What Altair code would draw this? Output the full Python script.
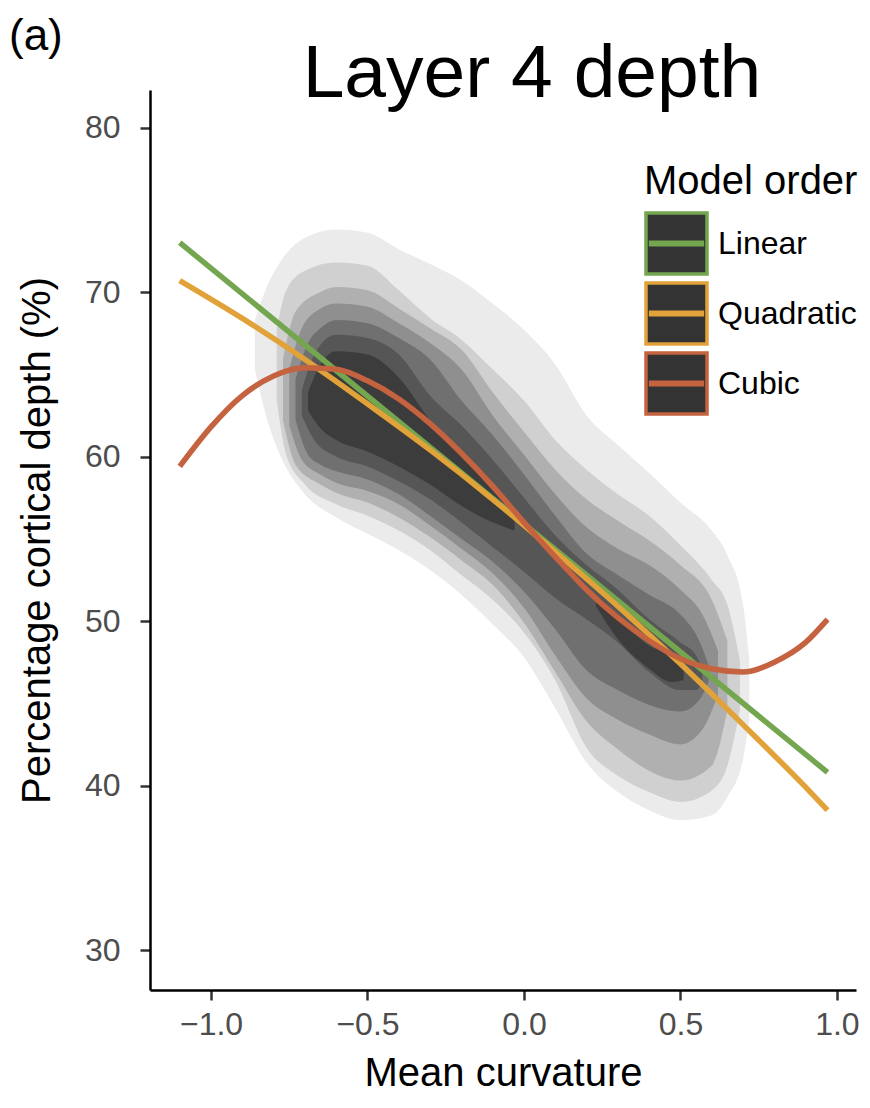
import altair as alt
import pandas as pd

FONT = "Liberation Sans"

# ---------------- fitted model curves ----------------
models = ["Linear", "Quadratic", "Cubic"]
model_colors = ["#74a64f", "#e2a23a", "#c5623f"]

lin_x = [-1.1, 0.0, 0.97]
lin_y = [73.0, 55.9, 40.8]

quad_x = [-1.1, -0.9, -0.7, -0.5, -0.3, -0.1, 0.1, 0.3, 0.5, 0.7, 0.9, 0.97]
quad_y = [70.7, 68.4, 65.9, 63.2, 60.4, 57.4, 54.2, 50.9, 47.4, 43.7, 39.9, 38.5]

cub_x = [-1.1, -1.0, -0.9, -0.8, -0.7, -0.6, -0.5, -0.4, -0.3, -0.2, -0.1, 0.0,
         0.1, 0.2, 0.3, 0.4, 0.5, 0.6, 0.7, 0.8, 0.9, 0.97]
cub_y = [59.4, 61.8, 63.7, 64.9, 65.4, 65.3, 64.6, 63.5, 62.0, 60.2, 58.2, 56.0,
         53.9, 51.9, 50.2, 48.8, 47.7, 47.1, 46.9, 47.5, 48.7, 50.1]

# ---------------- density contour bands (outer -> inner) ----------------
level_colors = ["#ebebeb", "#d0d0d0", "#b0b0b0", "#8f8f8f", "#707070", "#565656", "#3c3c3c"]

d1_x = [-0.86, -0.82, -0.78, -0.7, -0.6, -0.5, -0.4, -0.3, -0.2, -0.1, 0.0, 0.1, 0.2, 0.3, 0.4, 0.5, 0.6, 0.65, 0.7, 0.72]
d1_hi = [68.3, 70.4, 71.8, 73.3, 73.8, 73.6, 72.6, 71.7, 70.7, 69.3, 67.7, 65.6, 62.5, 60.7, 59.0, 57.2, 55.5, 54.0, 51.0, 47.6]
d1_lo = [65.3, 62.2, 60.1, 57.7, 56.3, 55.3, 54.3, 53.1, 51.6, 49.8, 47.8, 44.7, 41.4, 39.6, 38.5, 37.9, 38.2, 39.3, 41.6, 44.0]

d2_x = [-0.79, -0.76, -0.7, -0.6, -0.5, -0.4, -0.3, -0.2, -0.1, 0.0, 0.1, 0.2, 0.3, 0.4, 0.5, 0.6, 0.65, 0.69]
d2_hi = [67.7, 70.1, 71.3, 71.8, 71.6, 70.1, 68.4, 67.1, 65.3, 63.4, 61.0, 59.2, 57.7, 56.4, 54.6, 52.5, 51.0, 47.6]
d2_lo = [63.4, 60.1, 58.3, 57.1, 56.4, 55.5, 54.3, 52.8, 51.3, 49.3, 46.4, 42.3, 40.6, 39.6, 39.0, 39.7, 41.2, 44.6]

d3_x = [-0.77, -0.73, -0.65, -0.6, -0.5, -0.4, -0.3, -0.2, -0.1, 0.0, 0.1, 0.2, 0.3, 0.4, 0.5, 0.6, 0.65]
d3_hi = [65.9, 68.8, 70.0, 70.3, 70.1, 69.0, 67.8, 66.5, 63.9, 61.5, 59.2, 57.4, 56.1, 54.9, 53.4, 51.3, 48.8]
d3_lo = [62.2, 59.5, 58.3, 57.8, 57.2, 56.3, 55.1, 53.7, 52.2, 49.9, 46.9, 43.9, 42.2, 40.9, 40.3, 41.2, 44.6]

d4_x = [-0.75, -0.71, -0.65, -0.6, -0.5, -0.4, -0.3, -0.2, -0.1, 0.0, 0.1, 0.2, 0.3, 0.4, 0.5, 0.57, 0.62]
d4_hi = [65.3, 67.8, 69.0, 69.3, 69.1, 68.1, 66.9, 65.3, 62.5, 60.1, 57.7, 55.7, 54.4, 53.4, 51.9, 50.4, 48.2]
d4_lo = [61.9, 59.8, 58.9, 58.4, 57.9, 57.1, 55.8, 54.4, 52.9, 50.8, 47.9, 45.3, 44.0, 43.1, 42.5, 43.4, 45.5]

d5_x = [-0.73, -0.69, -0.65, -0.6, -0.5, -0.4, -0.3, -0.2, -0.1, 0.0, 0.1, 0.2, 0.3, 0.4, 0.5, 0.56, 0.59]
d5_hi = [64.7, 66.9, 67.8, 68.3, 68.1, 67.2, 65.9, 63.4, 61.3, 58.9, 56.4, 54.1, 52.8, 51.6, 50.4, 48.8, 47.3]
d5_lo = [62.2, 60.1, 59.5, 59.1, 58.6, 57.7, 56.4, 55.0, 53.6, 51.8, 49.5, 47.0, 45.8, 44.9, 44.5, 45.2, 46.3]

d6_x = [-0.71, -0.67, -0.6, -0.5, -0.4, -0.3, -0.2, -0.1, 0.0, 0.1, 0.2, 0.3, 0.4, 0.5, 0.55, 0.57]
d6_hi = [64.0, 66.2, 67.4, 67.2, 66.2, 63.7, 61.9, 59.8, 57.5, 55.2, 53.4, 51.9, 50.1, 48.7, 47.9, 47.1]
d6_lo = [62.5, 61.0, 60.0, 59.4, 58.5, 57.4, 56.0, 54.5, 53.0, 51.4, 50.1, 48.7, 46.9, 45.8, 45.8, 46.3]

d7a_x = [-0.69, -0.65, -0.6, -0.5, -0.4, -0.3, -0.2, -0.1, -0.03]
d7a_hi = [63.9, 65.6, 66.4, 66.2, 64.8, 62.2, 60.1, 57.9, 56.4]
d7a_lo = [62.8, 61.7, 61.0, 60.3, 59.4, 58.3, 57.0, 56.0, 55.5]

d7b_x = [0.23, 0.3, 0.4, 0.47, 0.51]
d7b_hi = [51.3, 50.2, 48.5, 47.9, 47.1]
d7b_lo = [50.9, 48.9, 47.1, 46.3, 46.4]

x_ticks = [-1.0, -0.5, 0.0, 0.5, 1.0]
y_ticks = [30, 40, 50, 60, 70, 80]

# ---------------- build tables ----------------
levels = [
    [(d1_x, d1_hi, d1_lo)],
    [(d2_x, d2_hi, d2_lo)],
    [(d3_x, d3_hi, d3_lo)],
    [(d4_x, d4_hi, d4_lo)],
    [(d5_x, d5_hi, d5_lo)],
    [(d6_x, d6_hi, d6_lo)],
    [(d7a_x, d7a_hi, d7a_lo), (d7b_x, d7b_hi, d7b_lo)],
]

x_scale = alt.Scale(domain=[-1.195, 1.061], nice=False, zero=False)
y_scale = alt.Scale(domain=[27.57, 82.28], nice=False, zero=False)

axis_common = dict(grid=False, domainColor="black", domainWidth=2.5, tickColor="#333333",
                   tickWidth=2.5, tickSize=10, labelFontSize=32, labelColor="#4d4d4d",
                   labelFont=FONT, titleFont=FONT, titleFontSize=40, titleFontWeight="normal",
                   titleColor="black", labelFlush=False)
x_axis = alt.Axis(title="Mean curvature", values=x_ticks, format=".1f", labelPadding=9,
                  titlePadding=13, **axis_common)
y_axis = alt.Axis(title="Percentage cortical depth (%)", values=y_ticks, format="d",
                  labelPadding=20, titlePadding=27, **axis_common)

layers = []
for i, blobs in enumerate(levels):
    rows = []
    for b, (xs, his, los) in enumerate(blobs):
        for xv, hv, lv in zip(xs, his, los):
            rows.append({"x": xv, "hi": hv, "lo": lv, "blob": b})
    df = pd.DataFrame(rows)
    layers.append(
        alt.Chart(df).mark_area(color=level_colors[i], interpolate="monotone", opacity=1).encode(
            x=alt.X("x:Q", scale=x_scale, axis=x_axis),
            y=alt.Y("hi:Q", scale=y_scale, axis=y_axis),
            y2="lo:Q",
            detail="blob:N",
        )
    )

line_rows = []
for name, xs, ys in [("Linear", lin_x, lin_y), ("Quadratic", quad_x, quad_y), ("Cubic", cub_x, cub_y)]:
    for k, (xv, yv) in enumerate(zip(xs, ys)):
        line_rows.append({"model": name, "x": xv, "hi": yv, "k": k})
lines_df = pd.DataFrame(line_rows)

legend = alt.Legend(
    title="Model order", orient="none", legendX=494, legendY=72,
    symbolType="M-1,-1H1V1H-1Z M-0.85,-0.04H0.85V0.04H-0.85Z",
    symbolSize=3721, symbolStrokeWidth=3.5, symbolFillColor="#333333",
    labelFontSize=32, labelFont=FONT, labelColor="black", labelOffset=9, labelLimit=300,
    titleFontSize=40, titleFont=FONT, titleFontWeight="normal", titleColor="black",
    titleLimit=400, titlePadding=9, rowPadding=-27, padding=0,
)

lines = alt.Chart(lines_df).mark_line(strokeWidth=5.5, interpolate="monotone").encode(
    x=alt.X("x:Q", scale=x_scale, axis=x_axis),
    y=alt.Y("hi:Q", scale=y_scale, axis=y_axis),
    color=alt.Color("model:N", scale=alt.Scale(domain=models, range=model_colors),
                    sort=models, legend=legend),
    order="k:Q",
)

title_df = pd.DataFrame({"t": ["Layer 4 depth"]})
title = alt.Chart(title_df).mark_text(fontSize=75, font=FONT, align="center",
                                      baseline="alphabetic", color="black").encode(
    text="t:N", x=alt.value(382), y=alt.value(7))

tag_df = pd.DataFrame({"t": ["(a)"]})
tag = alt.Chart(tag_df).mark_text(fontSize=44, font=FONT, align="left",
                                  baseline="alphabetic", color="black").encode(
    text="t:N", x=alt.value(-141), y=alt.value(-40))

chart = alt.layer(*layers, lines, title, tag).properties(
    width=706, height=900,
    autosize=alt.AutoSizeParams(type="none"),
    padding={"left": 142, "top": 82, "right": 6, "bottom": 104},
).configure(background="white").configure_view(stroke=None)

chart.save("out.html", embed_options={"renderer": "svg", "actions": False})
